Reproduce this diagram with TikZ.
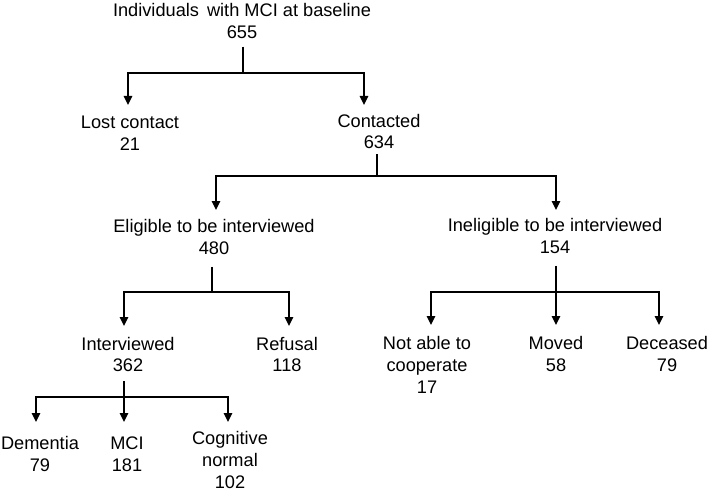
\documentclass[tikz,border=0pt]{standalone}
\usepackage{fontspec}
\setmainfont{Liberation Sans}
\usetikzlibrary{arrows.meta}
\begin{document}
\begin{tikzpicture}[x=1pt,y=-1pt,
  lbl/.style={align=center,inner sep=0pt,font=\fontsize{18.2}{21.7}\selectfont},
  ln/.style={line width=1.3pt,black},
  arr/.style={ln,-{Triangle[width=8.5pt,length=9pt]}}]
\useasboundingbox (0,0) rectangle (711,492);
% nodes
\node[lbl] (top) at (242,21) {Individuals\hspace{3pt} with MCI at baseline\\655};
\node[lbl] (lost) at (130,133.5) {Lost contact\\21};
\node[lbl] (cont) at (379,131.5) {Contacted\\634};
\node[lbl] (elig) at (214,237) {Eligible to be interviewed\\480};
\node[lbl] (inel) at (555,236) {Ineligible to be interviewed\\154};
\node[lbl] (intv) at (128,354.5) {Interviewed\\362};
\node[lbl] (refu) at (287,354.5) {Refusal\\118};
\node[lbl] (nota) at (427,365) {Not able to\\cooperate\\17};
\node[lbl] (move) at (556,354) {Moved\\58};
\node[lbl] (dece) at (667,354) {Deceased\\79};
\node[lbl] (deme) at (40,454) {Dementia\\79};
\node[lbl] (mci) at (127,454) {MCI\\181};
\node[lbl] (cogn) at (230,460) {Cognitive\\normal\\102};
% junctions and arrow tips
\coordinate (j1) at (243,73);
\coordinate (t1a) at (128,105); \coordinate (t1b) at (364,105);
\coordinate (j2) at (377,176);
\coordinate (t2a) at (216,210); \coordinate (t2b) at (556,210);
\coordinate (j3) at (212,292);
\coordinate (t3a) at (124,326); \coordinate (t3b) at (289,326);
\coordinate (j4) at (556,292);
\coordinate (t4a) at (431,325); \coordinate (t4b) at (556,325); \coordinate (t4c) at (659,325);
\coordinate (j5) at (124,397);
\coordinate (t5a) at (36,422); \coordinate (t5b) at (124,422); \coordinate (t5c) at (228,422);
% connectors
\draw[ln] (top.south -| j1) ++(0,8) -- (j1);
\draw[arr] (j1) -| (t1a);
\draw[arr] (j1) -| (t1b);
\draw[ln] (cont.south -| j2) ++(0,5) -- (j2);
\draw[arr] (j2) -| (t2a);
\draw[arr] (j2) -| (t2b);
\draw[ln] (elig.south -| j3) ++(0,12) -- (j3);
\draw[arr] (j3) -| (t3a);
\draw[arr] (j3) -| (t3b);
\draw[ln] (inel.south -| j4) ++(0,12) -- (j4);
\draw[arr] (j4) -| (t4a);
\draw[arr] (j4) -- (t4b);
\draw[arr] (j4) -| (t4c);
\draw[ln] (intv.south -| j5) ++(0,9) -- (j5);
\draw[arr] (j5) -| (t5a);
\draw[arr] (j5) -- (t5b);
\draw[arr] (j5) -| (t5c);
\end{tikzpicture}
\end{document}
